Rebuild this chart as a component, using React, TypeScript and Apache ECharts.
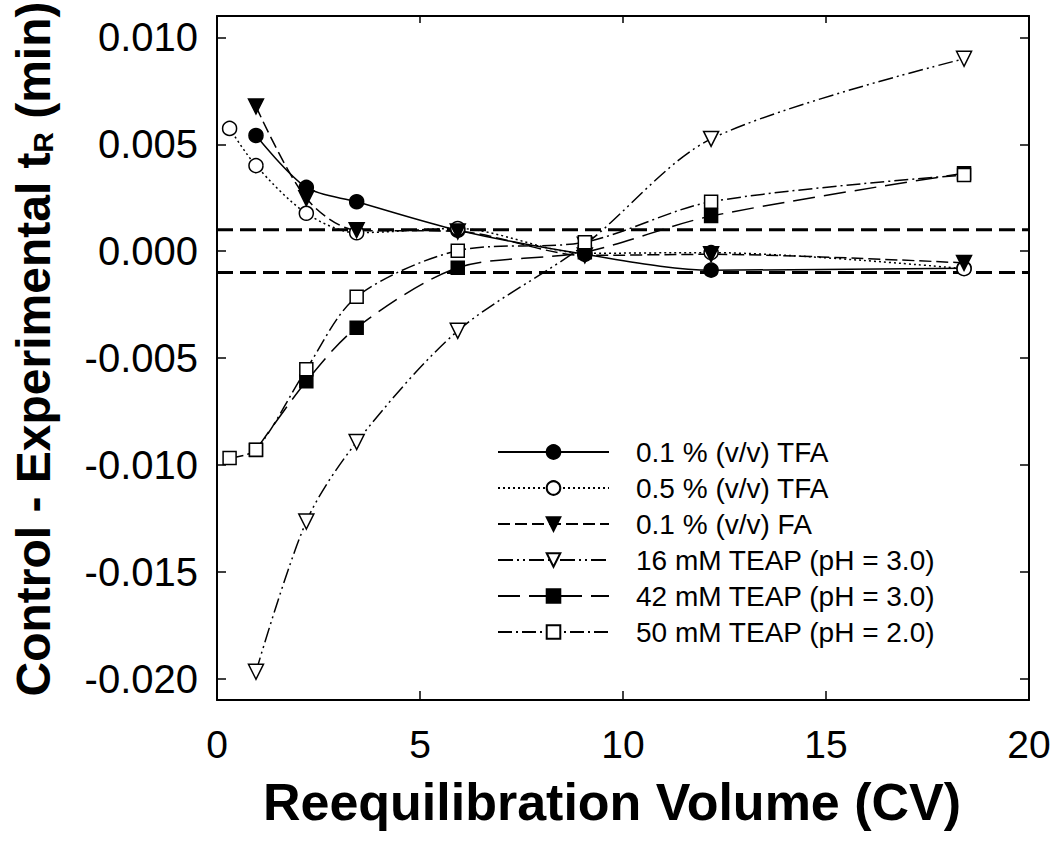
import { useEffect, useRef } from "react";
import * as echarts from "echarts";

// ---- data ----
const xA = [0.96, 2.2, 3.44, 5.93, 9.06, 12.17, 18.4];
const xB = [0.31, 0.96, 2.2, 3.44, 5.93, 9.06, 12.17, 18.4];

const seriesNames = [
  "0.1 % (v/v) TFA",
  "0.5 % (v/v) TFA",
  "0.1 % (v/v) FA",
  "16 mM TEAP (pH = 3.0)",
  "42 mM TEAP (pH = 3.0)",
  "50 mM TEAP (pH = 2.0)",
];

const tfa01 = [0.00541, 0.00298, 0.00231, 0.00098, -0.00015, -0.00089, -0.0008];
const tfa05 = [0.00574, 0.004, 0.00177, 0.00086, 0.00106, -0.0001, -0.00007, -0.00082];
const fa01 = [0.00677, 0.00247, 0.00098, 0.00092, -0.0002, -0.00015, -0.00055];
const teap16 = [-0.01968, -0.01265, -0.00893, -0.00373, 0.0003, 0.00525, 0.009];
const teap42 = [-0.0093, -0.00609, -0.00358, -0.00078, -0.00005, 0.00164, 0.00364];
const teap50 = [-0.00968, -0.00929, -0.00553, -0.00214, 0.00002, 0.00042, 0.00231, 0.00356];

const xTicks = [0, 5, 10, 15, 20];
const yTicks = [-0.02, -0.015, -0.01, -0.005, 0, 0.005, 0.01];
const refLines = [0.001, -0.001];
const xRange = [0, 20];

const FONT = "'Liberation Sans', Arial, Helvetica, sans-serif";

function pairs(xs: number[], ys: number[]) {
  return ys.map((y, i) => [xs[i], y]);
}

function mk(
  name: string,
  xs: number[],
  ys: number[],
  symbol: string,
  size: number,
  filled: boolean,
  dash: any,
  rotate = 0
) {
  return {
    name,
    type: "line",
    xAxisIndex: 0,
    yAxisIndex: 0,
    data: pairs(xs, ys),
    smooth: 0.3,
    symbol,
    symbolSize: size,
    symbolRotate: rotate,
    showAllSymbol: true,
    z: 3,
    lineStyle: { color: "#000", width: 1.5, type: dash },
    itemStyle: {
      color: filled ? "#000" : "#fff",
      borderColor: "#000",
      borderWidth: 1.5,
    },
    emphasis: { disabled: true },
  };
}

export default function App() {
  const ref = useRef<HTMLDivElement>(null);

  useEffect(() => {
    const chart = echarts.init(ref.current!, null, { renderer: "svg" });

    const series: any[] = refLines.map((v, i) => ({
      name: "ref" + i,
      type: "line",
      xAxisIndex: 0,
      yAxisIndex: 0,
      data: xRange.map((x) => [x, v]),
      symbol: "none",
      z: 2,
      lineStyle: { color: "#000", width: 3, type: [16, 7] },
      emphasis: { disabled: true },
      silent: true,
    }));

    series.push(
      mk(seriesNames[0], xA, tfa01, "circle", 14, true, "solid"),
      mk(seriesNames[1], xB, tfa05, "circle", 14, false, [2, 3]),
      mk(seriesNames[2], xA, fa01, "triangle", 15, true, [12, 5], 180),
      mk(seriesNames[3], xA, teap16, "triangle", 15, false, [15, 4, 2, 4, 2, 4], 180),
      mk(seriesNames[4], xA, teap42, "rect", 13, true, [22, 9]),
      mk(seriesNames[5], xB, teap50, "rect", 13, false, [14, 4, 2, 4])
    );

    const axisLineStyle = { color: "#000", width: 2 };
    const tickStyle = { color: "#000", width: 1.5 };

    const option: any = {
      animation: false,
      backgroundColor: "#fff",
      grid: {
        left: 217,
        top: 16,
        right: 21,
        bottom: 152,
        containLabel: false,
        outerBoundsMode: "none",
      },
      legend: {
        orient: "vertical",
        left: 497,
        top: 437,
        padding: 0,
        itemWidth: 111,
        itemHeight: 17,
        itemGap: 6,
        selectedMode: false,
        textStyle: {
          fontFamily: FONT,
          fontSize: 28,
          color: "#000",
          lineHeight: 30,
          padding: [0, 0, 0, 22],
        },
        data: seriesNames,
      },
      xAxis: [
        {
          type: "value",
          min: 0,
          max: 20,
          interval: 5,
          position: "bottom",
          splitLine: { show: false },
          axisLine: { show: true, onZero: false, lineStyle: axisLineStyle },
          axisTick: { show: true, inside: true, length: 9, lineStyle: tickStyle },
          axisLabel: {
            show: true,
            margin: 25,
            fontFamily: FONT,
            fontSize: 39,
            color: "#000",
            customValues: xTicks,
          },
          name: "Reequilibration Volume (CV)",
          nameLocation: "middle",
          nameGap: 76,
          nameTextStyle: {
            fontFamily: FONT,
            fontSize: 52,
            fontWeight: "bold",
            color: "#000",
            padding: [0, 22, 0, 0],
          },
        },
        {
          type: "value",
          min: 0,
          max: 20,
          interval: 5,
          position: "top",
          splitLine: { show: false },
          axisLine: { show: true, onZero: false, lineStyle: axisLineStyle },
          axisTick: { show: true, inside: true, length: 7, lineStyle: tickStyle },
          axisLabel: { show: false },
        },
      ],
      yAxis: [
        {
          type: "value",
          min: -0.021,
          max: 0.011,
          position: "left",
          splitLine: { show: false },
          axisLine: { show: true, onZero: false, lineStyle: axisLineStyle },
          axisTick: {
            show: true,
            inside: true,
            length: 9,
            lineStyle: tickStyle,
            customValues: yTicks,
          },
          axisLabel: {
            show: true,
            margin: 19,
            fontFamily: FONT,
            fontSize: 40,
            color: "#000",
            customValues: yTicks,
            formatter: (v: number) => v.toFixed(3),
          },
        },
        {
          type: "value",
          min: -0.021,
          max: 0.011,
          position: "right",
          splitLine: { show: false },
          axisLine: { show: true, onZero: false, lineStyle: axisLineStyle },
          axisTick: {
            show: true,
            inside: true,
            length: 9,
            lineStyle: tickStyle,
            customValues: yTicks,
          },
          axisLabel: { show: false },
        },
      ],
      graphic: [
        {
          type: "text",
          x: 33,
          y: 349,
          rotation: Math.PI / 2,
          style: {
            text: "{a|Control - Experimental t}{s|R}{a| (min)}",
            align: "center",
            verticalAlign: "middle",
            fill: "#000",
            rich: {
              a: {
                fontFamily: FONT,
                fontSize: 48,
                fontWeight: "bold",
                fill: "#000",
                lineHeight: 48,
              },
              s: {
                fontFamily: FONT,
                fontSize: 28,
                fontWeight: "bold",
                fill: "#000",
                lineHeight: 28,
                verticalAlign: "bottom",
              },
            },
          },
        },
      ],
      series,
    };

    chart.setOption(option);
    return () => chart.dispose();
  }, []);

  return (
    <div
      ref={ref}
      style={{
        position: "absolute",
        left: 0,
        top: 0,
        width: 1050,
        height: 852,
        background: "#fff",
      }}
    />
  );
}
